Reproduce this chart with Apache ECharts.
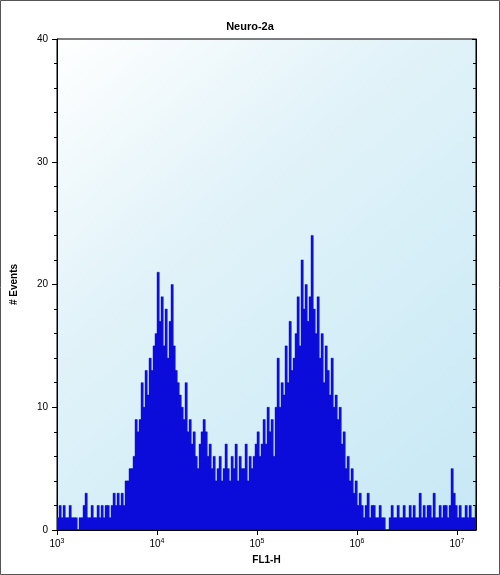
<!DOCTYPE html>
<html><head><meta charset="utf-8">
<script src="https://cdn.jsdelivr.net/npm/echarts@6/dist/echarts.min.js"></script>
<style>html,body{margin:0;padding:0;background:#fff}#c{width:500px;height:575px}</style>
</head><body><div id="c"></div>
<script>
// histogram bins: log10(FL1-H) start, width 0.02 decade
var binStart = 3.0, binWidth = 0.02;
var counts = [
 1,2,1,2,1,1,2,1,1,1,0,1,1,2,3,1,1,2,1,1,2,1,2,1,2,
 2,1,2,3,2,3,2,3,2,4,
 4,5,5,6,9,
 8,9,12,10,13,11,14,13,15,16,
 21,17,19,15,18,14,17,20,15,13,
 12,11,10,9,12,8,9,7,8,6,
 5,7,8,9,8,6,7,5,6,4,
 5,6,4,5,7,5,4,6,5,7,4,6,5,5,7,4,6,5,6,7,
 8,6,7,9,7,10,8,9,6,10,
 14,10,12,11,15,12,17,13,14,16,
 19,15,22,18,20,17,19,24,18,16,
 19,14,16,12,15,13,11,14,10,11,
 9,10,7,8,5,6,4,5,3,4,
 2,3,2,1,2,3,1,2,2,1,1,2,1,1,0,
 0,1,2,1,1,2,1,1,2,1,1,2,1,2,1,1,3,1,2,1,2,2,1,3,1,1,2,1,2,2,1,2,5,3,2,1,2,1,1,2,1,2,1,1,2
];
var data = counts.map(function(v, i){ return [binStart + i*binWidth, v]; });

var chart = echarts.init(document.getElementById('c'));
var axisLine = {show:true, lineStyle:{color:'#000', width:1}};
chart.setOption({
  animation:false,
  title:{text:'Neuro-2a', left:'center', top:16, textStyle:{fontFamily:'Arial', fontSize:11, fontWeight:'bold', color:'#000'}},
  graphic:[{type:'rect', shape:{x:0.5,y:0.5,width:499,height:574}, style:{fill:null, stroke:'#555', lineWidth:1}}],
  grid:{left:57, right:24, top:39, bottom:45, show:true, borderColor:'#000', borderWidth:1,
    backgroundColor:{type:'linear', x:0, y:0, x2:1, y2:1, colorStops:[{offset:0,color:'#ffffff'},{offset:0.35,color:'#e2f3f9'},{offset:1,color:'#c6e8f5'}]}},
  xAxis:{type:'value', min:3, max:7.19, interval:1, name:'FL1-H', nameLocation:'middle', nameGap:25,
    nameTextStyle:{fontFamily:'Arial', fontSize:10, fontWeight:'bold', color:'#000'},
    axisLine:axisLine, axisTick:{show:true, length:5, inside:false, lineStyle:{color:'#000'}}, splitLine:{show:false},
    axisLabel:{showMaxLabel:false, fontFamily:'Arial', fontSize:10, color:'#000', formatter:function(v){ return '10{s|'+v+'}'; },
      rich:{s:{fontSize:7, verticalAlign:'top', padding:[0,0,6,0]}}}},
  yAxis:[{type:'value', min:0, max:40, interval:10, name:'# Events', nameLocation:'middle', nameGap:38,
    nameTextStyle:{fontFamily:'Arial', fontSize:10, fontWeight:'bold', color:'#000'},
    axisLine:axisLine, axisTick:{show:true, length:5, lineStyle:{color:'#000'}},
    minorTick:{show:true, splitNumber:5, length:3, lineStyle:{color:'#000'}}, splitLine:{show:false},
    axisLabel:{fontFamily:'Arial', fontSize:10, color:'#000', margin:9}},
   {type:'value', min:0, max:40, interval:10, position:'right', axisLine:axisLine,
    axisTick:{show:true, length:4, inside:true, lineStyle:{color:'#000'}},
    minorTick:{show:true, splitNumber:5, length:3, lineStyle:{color:'#000'}}, splitLine:{show:false}, axisLabel:{show:false}}],
  series:[{type:'custom', data:data, clip:true,
    renderItem:function(params, api){
      var x0 = api.value(0), v = api.value(1);
      var p0 = api.coord([x0, 0]), p1 = api.coord([x0 + binWidth, v]);
      return {type:'rect', shape:{x:p0[0], y:p1[1], width:p1[0]-p0[0]+0.3, height:p0[1]-p1[1]},
        style:{fill:'#0f0ff5', stroke:'#000090', lineWidth:0.4}};
    }}]
});
</script></body></html>
